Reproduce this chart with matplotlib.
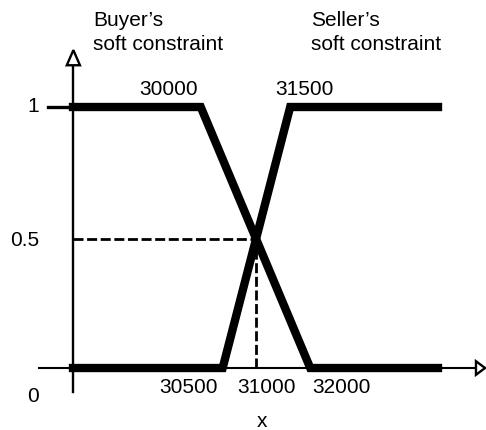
import numpy as np
import matplotlib.pyplot as plt
from matplotlib.patches import Polygon

plt.rcParams['font.family'] = ['Liberation Sans', 'DejaVu Sans']

# schematic positions along x (not to scale), membership values
buyer_x = [0, 3.5, 6.5, 10]
buyer_mu = [1, 1, 0, 0]
seller_x = [0, 4.1, 5.95, 10]
seller_mu = [0, 0, 1, 1]

buyer_title = ["Buyer\u2019s", "soft constraint"]
seller_title = ["Seller\u2019s", "soft constraint"]
y_labels = ["0", "0.5", "1"]
x_name = "x"

# crossing point of the two sloped segments
b_slope = (buyer_mu[2] - buyer_mu[1]) / (buyer_x[2] - buyer_x[1])
s_slope = (seller_mu[2] - seller_mu[1]) / (seller_x[2] - seller_x[1])
cx = (seller_mu[1] - buyer_mu[1] + b_slope * buyer_x[1] - s_slope * seller_x[1]) / (b_slope - s_slope)
cy = buyer_mu[1] + b_slope * (cx - buyer_x[1])

fig = plt.figure(figsize=(4.86, 4.30), dpi=100)
ax = fig.add_axes([0, 0, 1, 1])
ax.set_xlim(-2.0, 11.315)
ax.set_ylim(-0.2375, 1.41)
ax.axis('off')

fs = 15

# axes
ax.plot([0, 0], [-0.092, 1.16], color='black', lw=1.7, zorder=2)
ax.plot([-0.93, 11.04], [0, 0], color='black', lw=1.5, zorder=2)
ax.plot([-0.68, 0], [1, 1], color='black', lw=2.4, zorder=2)
ax.add_patch(Polygon([[-0.17, 1.16], [0.19, 1.16], [0.01, 1.218]], closed=True,
                     facecolor='white', edgecolor='black', lw=1.7, zorder=3))
ax.add_patch(Polygon([[11.04, -0.026], [11.04, 0.026], [11.29, 0]], closed=True,
                     facecolor='white', edgecolor='black', lw=1.7, zorder=3))

# dashed guides to the crossing
ax.plot([0, cx], [cy, cy], color='black', lw=2.0, dashes=(3.6, 1.3), zorder=2)
ax.plot([cx, cx], [0, cy], color='black', lw=2.0, dashes=(3.6, 1.3), zorder=2)

# membership functions
ax.plot(buyer_x, buyer_mu, color='black', lw=6.0, solid_joinstyle='miter', zorder=4)
ax.plot(seller_x, seller_mu, color='black', lw=6.0, solid_joinstyle='miter', zorder=4)

# breakpoint labels
ax.text(buyer_x[1] - 0.08, 1.046, "30000", fontsize=fs, ha='right', va='baseline')
ax.text(seller_x[2] - 0.4, 1.046, "31500", fontsize=fs, ha='left', va='baseline')
ax.text(seller_x[1] - 0.14, -0.096, "30500", fontsize=fs, ha='right', va='baseline')
ax.text(cx + 0.28, -0.096, "31000", fontsize=fs, ha='center', va='baseline')
ax.text(buyer_x[2] + 0.05, -0.096, "32000", fontsize=fs, ha='left', va='baseline')

# y labels
ax.text(-1.096, -0.130, y_labels[0], fontsize=fs, ha='center', va='baseline')
ax.text(-1.315, 0.467, y_labels[1], fontsize=fs, ha='center', va='baseline')
ax.text(-1.096, 0.981, y_labels[2], fontsize=fs, ha='center', va='baseline')
ax.text(5.18, -0.226, x_name, fontsize=fs, ha='center', va='baseline')

# titles
ax.text(0.548, 1.310, buyer_title[0], fontsize=fs, ha='left', va='baseline')
ax.text(0.548, 1.218, buyer_title[1], fontsize=fs, ha='left', va='baseline')
ax.text(6.52, 1.310, seller_title[0], fontsize=fs, ha='left', va='baseline')
ax.text(6.52, 1.218, seller_title[1], fontsize=fs, ha='left', va='baseline')

fig.savefig('out.png', dpi=100)
